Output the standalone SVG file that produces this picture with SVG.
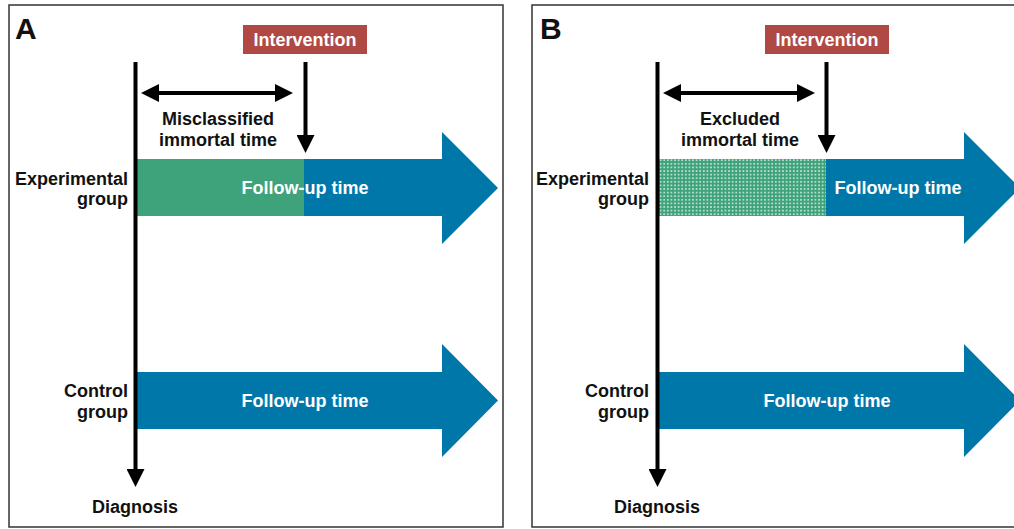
<svg xmlns="http://www.w3.org/2000/svg" width="1014" height="529" viewBox="0 0 1014 529">
<style>
.panel{fill:#fff;stroke:#333;stroke-width:1.5}
.t{font-family:"Liberation Sans",Arial,sans-serif;font-weight:bold;font-size:18px;fill:#111}
.w{fill:#fff}
.big{font-size:30px}
.ln{stroke:#000;stroke-width:4;fill:none}
.blue{fill:#0077a9}
.green{fill:#3ea37b}
.red{fill:#b04843}
</style>
<defs>
<marker id="head" viewBox="0 0 18 18" markerWidth="18" markerHeight="18" markerUnits="userSpaceOnUse" refX="0" refY="9" orient="auto-start-reverse">
<path d="M0,0 L18,9 L0,18 z" fill="#000"/>
</marker>
<pattern id="dots" width="3.6" height="3.6" patternUnits="userSpaceOnUse">
<rect width="3.6" height="3.6" fill="#3ea37b"/>
<circle cx="1.8" cy="1.8" r="0.85" fill="#e8f5ee"/>
</pattern>
</defs>

<rect class="panel" x="9" y="5" width="494" height="522"/>
<rect class="panel" x="532" y="5" width="500" height="522"/>
<text class="t big" x="15" y="39">A</text>
<text class="t big" x="540" y="39">B</text>

<!-- Panel A -->
<g id="A-intervention">
<rect class="red" x="243" y="25" width="124" height="29"/>
<text class="t w" x="305" y="46" text-anchor="middle">Intervention</text>
</g>
<g id="A-experimental">
<polygon class="blue" points="137,159 442,159 442,132 498,188 442,244 442,216 137,216"/>
<rect class="green" x="137" y="159" width="167" height="57"/>
<text class="t w" x="305" y="194" text-anchor="middle">Follow-up time</text>
<text class="t" x="128" y="185" text-anchor="end">Experimental</text>
<text class="t" x="128" y="205" text-anchor="end">group</text>
</g>
<g id="A-control">
<polygon class="blue" points="137,372 442,372 442,344 498,400.5 442,457 442,429 137,429"/>
<text class="t w" x="305" y="407" text-anchor="middle">Follow-up time</text>
<text class="t" x="128" y="397" text-anchor="end">Control</text>
<text class="t" x="128" y="418" text-anchor="end">group</text>
</g>
<g id="A-labels">
<text class="t" x="218" y="125" text-anchor="middle">Misclassified</text>
<text class="t" x="218" y="146" text-anchor="middle">immortal time</text>
<text class="t" x="135" y="513" text-anchor="middle">Diagnosis</text>
</g>

<!-- Panel B -->
<g id="B-intervention">
<rect class="red" x="765" y="25" width="124" height="29"/>
<text class="t w" x="827" y="46" text-anchor="middle">Intervention</text>
</g>
<g id="B-experimental">
<polygon class="blue" points="659,159 964,159 964,132 1020,188 964,244 964,216 659,216"/>
<rect fill="url(#dots)" x="659" y="159" width="167" height="57"/>
<text class="t w" x="898" y="194" text-anchor="middle">Follow-up time</text>
<text class="t" x="649" y="185" text-anchor="end">Experimental</text>
<text class="t" x="649" y="205" text-anchor="end">group</text>
</g>
<g id="B-control">
<polygon class="blue" points="659,372 964,372 964,344 1020,400.5 964,457 964,429 659,429"/>
<text class="t w" x="827" y="407" text-anchor="middle">Follow-up time</text>
<text class="t" x="649" y="397" text-anchor="end">Control</text>
<text class="t" x="649" y="418" text-anchor="end">group</text>
</g>
<g id="B-labels">
<text class="t" x="740" y="125" text-anchor="middle">Excluded</text>
<text class="t" x="740" y="146" text-anchor="middle">immortal time</text>
<text class="t" x="657" y="513" text-anchor="middle">Diagnosis</text>
</g>

<g id="connectors">
<line class="ln" x1="135.5" y1="62" x2="135.5" y2="469" marker-end="url(#head)"/>
<line class="ln" x1="305.5" y1="62" x2="305.5" y2="135" marker-end="url(#head)"/>
<line class="ln" x1="159" y1="93" x2="275" y2="93" marker-start="url(#head)" marker-end="url(#head)"/>
<line class="ln" x1="657.5" y1="62" x2="657.5" y2="469" marker-end="url(#head)"/>
<line class="ln" x1="826.5" y1="62" x2="826.5" y2="135" marker-end="url(#head)"/>
<line class="ln" x1="681" y1="93" x2="797" y2="93" marker-start="url(#head)" marker-end="url(#head)"/>
</g>
</svg>
